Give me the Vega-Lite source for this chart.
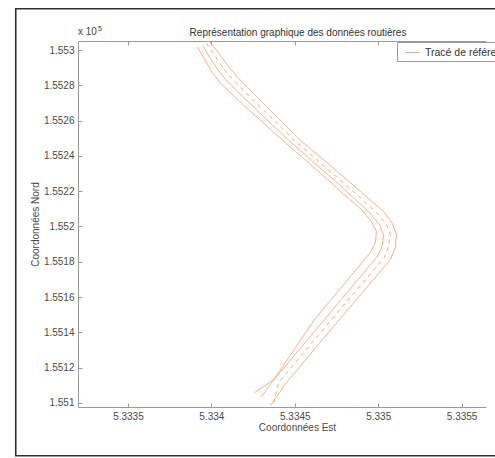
{
  "$schema": "https://vega.github.io/schema/vega-lite/v6.json",
  "autosize": "none",
  "padding": {"left": 78, "top": 41, "right": 9, "bottom": 51},
  "width": 408,
  "height": 366,
  "background": "white",
  "title": {
    "text": "Représentation graphique des données routières",
    "fontSize": 10,
    "fontWeight": "normal",
    "color": "#333333",
    "anchor": "middle",
    "frame": "group",
    "dx": 16,
    "dy": 34
  },
  "datasets": {
    "route": [
      {"trait": "bord gauche", "marquage": "continu", "ordre": 1, "E": 5.3339174, "N": 1.5530153},
      {"trait": "bord gauche", "marquage": "continu", "ordre": 2, "E": 5.3339593, "N": 1.5529473},
      {"trait": "bord gauche", "marquage": "continu", "ordre": 3, "E": 5.3340012, "N": 1.5528792},
      {"trait": "bord gauche", "marquage": "continu", "ordre": 4, "E": 5.3340491, "N": 1.5528168},
      {"trait": "bord gauche", "marquage": "continu", "ordre": 5, "E": 5.3341689, "N": 1.552709},
      {"trait": "bord gauche", "marquage": "continu", "ordre": 6, "E": 5.3344204, "N": 1.5524935},
      {"trait": "bord gauche", "marquage": "continu", "ordre": 7, "E": 5.3346479, "N": 1.5523063},
      {"trait": "bord gauche", "marquage": "continu", "ordre": 8, "E": 5.3348275, "N": 1.5521532},
      {"trait": "bord gauche", "marquage": "continu", "ordre": 9, "E": 5.3348994, "N": 1.5520965},
      {"trait": "bord gauche", "marquage": "continu", "ordre": 10, "E": 5.3349593, "N": 1.5520284},
      {"trait": "bord gauche", "marquage": "continu", "ordre": 11, "E": 5.3349892, "N": 1.5519717},
      {"trait": "bord gauche", "marquage": "continu", "ordre": 12, "E": 5.3349832, "N": 1.5519093},
      {"trait": "bord gauche", "marquage": "continu", "ordre": 13, "E": 5.3349533, "N": 1.5518526},
      {"trait": "bord gauche", "marquage": "continu", "ordre": 14, "E": 5.334618, "N": 1.5514725},
      {"trait": "bord gauche", "marquage": "continu", "ordre": 15, "E": 5.3343745, "N": 1.5511322},
      {"trait": "bord gauche", "marquage": "continu", "ordre": 16, "E": 5.3342587, "N": 1.5510585},

      {"trait": "voie gauche", "marquage": "continu", "ordre": 1, "E": 5.3339473, "N": 1.5530267},
      {"trait": "voie gauche", "marquage": "continu", "ordre": 2, "E": 5.3339892, "N": 1.5529586},
      {"trait": "voie gauche", "marquage": "continu", "ordre": 3, "E": 5.3340371, "N": 1.5528905},
      {"trait": "voie gauche", "marquage": "continu", "ordre": 4, "E": 5.334085, "N": 1.5528338},
      {"trait": "voie gauche", "marquage": "continu", "ordre": 5, "E": 5.3342048, "N": 1.5527204},
      {"trait": "voie gauche", "marquage": "continu", "ordre": 6, "E": 5.3344563, "N": 1.5524935},
      {"trait": "voie gauche", "marquage": "continu", "ordre": 7, "E": 5.3346838, "N": 1.5523063},
      {"trait": "voie gauche", "marquage": "continu", "ordre": 8, "E": 5.3348635, "N": 1.5521532},
      {"trait": "voie gauche", "marquage": "continu", "ordre": 9, "E": 5.3349473, "N": 1.5520794},
      {"trait": "voie gauche", "marquage": "continu", "ordre": 10, "E": 5.3350072, "N": 1.5520114},
      {"trait": "voie gauche", "marquage": "continu", "ordre": 11, "E": 5.3350311, "N": 1.5519547},
      {"trait": "voie gauche", "marquage": "continu", "ordre": 12, "E": 5.3350251, "N": 1.5518923},
      {"trait": "voie gauche", "marquage": "continu", "ordre": 13, "E": 5.3349952, "N": 1.5518299},
      {"trait": "voie gauche", "marquage": "continu", "ordre": 14, "E": 5.3346778, "N": 1.5514725},
      {"trait": "voie gauche", "marquage": "continu", "ordre": 15, "E": 5.3343605, "N": 1.5511152},
      {"trait": "voie gauche", "marquage": "continu", "ordre": 16, "E": 5.3343006, "N": 1.5510358},

      {"trait": "axe", "marquage": "discontinu", "ordre": 1, "E": 5.3339713, "N": 1.553038},
      {"trait": "axe", "marquage": "discontinu", "ordre": 2, "E": 5.3340192, "N": 1.5529699},
      {"trait": "axe", "marquage": "discontinu", "ordre": 3, "E": 5.3340671, "N": 1.5529019},
      {"trait": "axe", "marquage": "discontinu", "ordre": 4, "E": 5.334121, "N": 1.5528395},
      {"trait": "axe", "marquage": "discontinu", "ordre": 5, "E": 5.3342407, "N": 1.552726},
      {"trait": "axe", "marquage": "discontinu", "ordre": 6, "E": 5.3344922, "N": 1.5524935},
      {"trait": "axe", "marquage": "discontinu", "ordre": 7, "E": 5.3347257, "N": 1.5523006},
      {"trait": "axe", "marquage": "discontinu", "ordre": 8, "E": 5.3349054, "N": 1.5521532},
      {"trait": "axe", "marquage": "discontinu", "ordre": 9, "E": 5.3349892, "N": 1.5520794},
      {"trait": "axe", "marquage": "discontinu", "ordre": 10, "E": 5.3350491, "N": 1.5520114},
      {"trait": "axe", "marquage": "discontinu", "ordre": 11, "E": 5.335073, "N": 1.5519547},
      {"trait": "axe", "marquage": "discontinu", "ordre": 12, "E": 5.3350611, "N": 1.5518866},
      {"trait": "axe", "marquage": "discontinu", "ordre": 13, "E": 5.3350371, "N": 1.5518242},
      {"trait": "axe", "marquage": "discontinu", "ordre": 14, "E": 5.3347198, "N": 1.5514725},
      {"trait": "axe", "marquage": "discontinu", "ordre": 15, "E": 5.3344024, "N": 1.5511152},
      {"trait": "axe", "marquage": "discontinu", "ordre": 16, "E": 5.3343745, "N": 1.5510017},

      {"trait": "bord droit", "marquage": "continu", "ordre": 1, "E": 5.3339892, "N": 1.5530493},
      {"trait": "bord droit", "marquage": "continu", "ordre": 2, "E": 5.3340491, "N": 1.5529756},
      {"trait": "bord droit", "marquage": "continu", "ordre": 3, "E": 5.334097, "N": 1.5529132},
      {"trait": "bord droit", "marquage": "continu", "ordre": 4, "E": 5.3341569, "N": 1.5528452},
      {"trait": "bord droit", "marquage": "continu", "ordre": 5, "E": 5.3342766, "N": 1.5527317},
      {"trait": "bord droit", "marquage": "continu", "ordre": 6, "E": 5.3345281, "N": 1.5524935},
      {"trait": "bord droit", "marquage": "continu", "ordre": 7, "E": 5.3347617, "N": 1.5523063},
      {"trait": "bord droit", "marquage": "continu", "ordre": 8, "E": 5.3349413, "N": 1.5521588},
      {"trait": "bord droit", "marquage": "continu", "ordre": 9, "E": 5.3350311, "N": 1.5520851},
      {"trait": "bord droit", "marquage": "continu", "ordre": 10, "E": 5.335085, "N": 1.552017},
      {"trait": "bord droit", "marquage": "continu", "ordre": 11, "E": 5.335109, "N": 1.5519547},
      {"trait": "bord droit", "marquage": "continu", "ordre": 12, "E": 5.335103, "N": 1.5518809},
      {"trait": "bord droit", "marquage": "continu", "ordre": 13, "E": 5.335073, "N": 1.5518128},
      {"trait": "bord droit", "marquage": "continu", "ordre": 14, "E": 5.3347677, "N": 1.5514725},
      {"trait": "bord droit", "marquage": "continu", "ordre": 15, "E": 5.3344443, "N": 1.5511095},
      {"trait": "bord droit", "marquage": "continu", "ordre": 16, "E": 5.3343545, "N": 1.5509847}
    ]
  },
  "resolve": {"axis": {"x": "independent", "y": "independent"}},
  "layer": [
    {
      "data": {"values": [{}]},
      "mark": {"type": "rect", "fill": null, "filled": false, "stroke": "#2e2e2e", "strokeWidth": 1.6, "clip": false},
      "encoding": {
        "x": {"datum": 5.3328275, "type": "quantitative", "scale": {"domain": [5.3332006, 5.335646], "nice": false, "zero": false},
              "axis": {"orient": "top", "values": [5.3335, 5.334, 5.3345, 5.335, 5.3355], "labels": false, "title": null, "domainColor": "#9a9a9a", "tickColor": "#9a9a9a", "tickSize": -4, "grid": false}},
        "x2": {"datum": 5.3358455},
        "y": {"datum": 1.5532337, "type": "quantitative", "scale": {"domain": [1.550977, 1.553051], "nice": false, "zero": false}, "axis": null},
        "y2": {"datum": 1.5507011}
      }
    },
    {
      "data": {"name": "route"},
      "mark": {"type": "line", "strokeWidth": 1, "clip": true},
      "encoding": {
        "x": {"field": "E", "type": "quantitative", "scale": {"domain": [5.3332006, 5.335646], "nice": false, "zero": false},
              "axis": {"orient": "bottom", "title": "Coordonnées Est", "values": [5.3335, 5.334, 5.3345, 5.335, 5.3355], "format": "~g", "titleX": 219, "titlePadding": 1}},
        "y": {"field": "N", "type": "quantitative", "scale": {"domain": [1.550977, 1.553051], "nice": false, "zero": false},
              "axis": {"orient": "left", "title": "Coordonnées Nord", "values": [1.551, 1.5512, 1.5514, 1.5516, 1.5518, 1.552, 1.5522, 1.5524, 1.5526, 1.5528, 1.553], "format": "~g", "titlePadding": 3}},
        "color": {"datum": "Tracé de référence", "type": "nominal", "scale": {"range": ["#f5a576"]},
                  "legend": {"orient": "none", "legendX": 319, "legendY": 1, "title": null}},
        "strokeDash": {"field": "marquage", "type": "nominal", "scale": {"domain": ["continu", "discontinu"], "range": [[1, 0], [4, 4]]}, "legend": null},
        "detail": {"field": "trait"},
        "order": {"field": "ordre", "type": "quantitative"}
      }
    },
    {
      "data": {"values": [{}]},
      "mark": {"type": "text", "align": "left", "baseline": "alphabetic", "fontSize": 10, "color": "#444444", "clip": false, "dy": -6, "dx": 0},
      "encoding": {
        "x": {"datum": 5.3332006, "type": "quantitative", "axis": null},
        "y": {"datum": 1.553051, "type": "quantitative", "axis": null},
        "text": {"value": "x 10"}
      }
    },
    {
      "data": {"values": [{}]},
      "mark": {"type": "text", "align": "left", "baseline": "alphabetic", "fontSize": 7, "color": "#444444", "clip": false, "dy": -10, "dx": 20},
      "encoding": {
        "x": {"datum": 5.3332006, "type": "quantitative", "axis": null},
        "y": {"datum": 1.553051, "type": "quantitative", "axis": null},
        "text": {"value": "5"}
      }
    }
  ],
  "config": {
    "font": "Liberation Sans",
    "view": {"stroke": null},
    "axis": {
      "grid": false,
      "domainColor": "#9a9a9a",
      "tickColor": "#9a9a9a",
      "tickSize": -4,
      "labelPadding": 8,
      "labelFontSize": 10,
      "labelColor": "#4a4a4a",
      "labelFont": "Liberation Sans",
      "titleFont": "Liberation Sans",
      "titleFontSize": 10,
      "titleFontWeight": "normal",
      "titleColor": "#4a4a4a"
    },
    "legend": {
      "symbolType": "stroke",
      "symbolSize": 196,
      "symbolStrokeWidth": 1,
      "symbolOffset": 5,
      "labelOffset": 5,
      "labelFontSize": 10.5,
      "labelColor": "#333333",
      "labelFont": "Liberation Sans",
      "strokeColor": "#9a9a9a",
      "fillColor": "white",
      "padding": 3
    }
  }
}
